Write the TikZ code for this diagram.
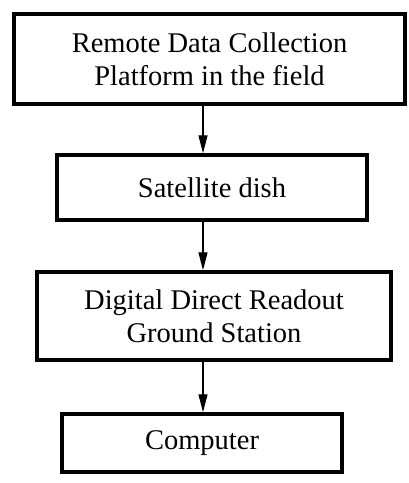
\documentclass[tikz,border=0pt]{standalone}
\usepackage{fontspec}
\setmainfont{Liberation Serif}
\usetikzlibrary{arrows.meta}
\begin{document}
\begin{tikzpicture}[x=1pt,y=-1pt,
  box/.style={draw=black, line width=3.5pt, rectangle, inner sep=0pt, align=center,
    font=\fontsize{28.5}{33}\selectfont},
  arr/.style={line width=1.3pt, -{Triangle[length=18pt,width=9pt]}}]
\useasboundingbox (0,0) rectangle (409,483);
\node[box, minimum width=391pt, minimum height=90pt] (b1) at (209.5,59) {Remote Data Collection\\Platform in the field};
\node[box, minimum width=310pt, minimum height=65pt] (b2) at (212,187.5) {Satellite dish};
\node[box, minimum width=354pt, minimum height=88pt] (b3) at (214,316) {Digital Direct Readout\\Ground Station};
\node[box, minimum width=280pt, minimum height=58pt] (b4) at (202,443) {Computer};
\coordinate (ax) at (203,0);
\draw[arr] (b1.south -| ax) -- (b2.north -| ax);
\draw[arr] (b2.south -| ax) -- (b3.north -| ax);
\draw[arr] (b3.south -| ax) -- (b4.north -| ax);
\end{tikzpicture}
\end{document}
